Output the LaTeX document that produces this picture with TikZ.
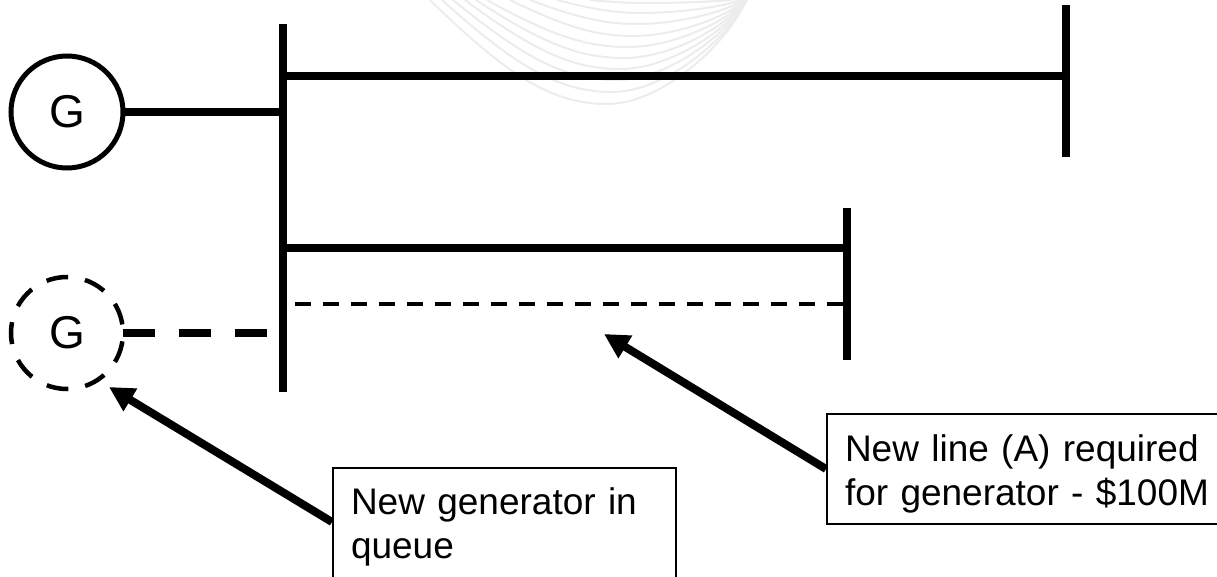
\documentclass[tikz,border=0pt]{standalone}
\usepackage{fontspec}
\setmainfont{Liberation Sans}
\usetikzlibrary{arrows.meta}

\tikzset{
  bus/.style={line width=8pt},
  gen/.style={circle, draw, line width=5pt, minimum size=112pt, inner sep=0pt, outer sep=0pt, font=\fontsize{46}{46}\selectfont},
  callout/.style={draw, line width=2pt, anchor=north west, inner xsep=18pt, inner ysep=0pt, align=left, font=\fontsize{37}{44}\selectfont},
  pointer/.style={line width=8pt, -{Triangle[length=25pt,width=25pt]}},
}

\begin{document}
\begin{tikzpicture}[x=1pt, y=-1pt]
  \clip (0,0) rectangle (1217,577);

  % faint arcs behind the lines
  \foreach \s/\m/\b in {430/607/104, 442/612/92, 453/616/80, 465/620/69, 476/624/58, 487/628/47, 510/633/36, 530/637/24, 557/641/13, 590/645/3} {
    \draw[gray!15, line width=2pt] (\s,0)
      .. controls ({\s+0.45*(\m-\s)},{0.75*\b}) and ({\m-0.3*(\m-\s)},\b) .. (\m,\b)
      .. controls ({\m+0.4*(748-\m)},\b) and ({748-0.13*(748-\m)},{0.4*\b}) .. (748,-3);
  }

  % vertices
  \coordinate (bus1a) at (283,24);
  \coordinate (bus1b) at (283,392);
  \coordinate (bus2a) at (1066,5);
  \coordinate (bus2b) at (1066,157);
  \coordinate (bus3a) at (847,208);
  \coordinate (bus3b) at (847,360);

  \coordinate (top1) at (283,76);
  \coordinate (top2) at (1066,76);
  \coordinate (mid1) at (283,248);
  \coordinate (mid2) at (847,248);
  \coordinate (new1) at (295,304);
  \coordinate (new2) at (847,304);
  \coordinate (stub) at (267,333);
  \coordinate (tap) at (283,112);

  \node[gen] (gen1) at (67,112) {G};
  \node[gen, draw=none] (gen2) at (67,333) {G};

  % boxes
  \node[callout, text width=307pt] (box1) at (332,467) {\rule{0pt}{46pt}New generator in\\queue\rule[-33pt]{0pt}{33pt}};
  \node[callout, text width=370pt] (box2) at (826,413) {\rule{0pt}{47pt}New line (A) required\\for generator - \$100M\rule[-19pt]{0pt}{19pt}};

  \coordinate (tip1) at (109,387);
  \coordinate (tip2) at (604,334);
  \coordinate (tail1) at (332,522);

  % draw diagram
  \draw[bus] (bus1a) -- (bus1b);
  \draw[bus] (bus2a) -- (bus2b);
  \draw[bus] (bus3a) -- (bus3b);
  \draw[bus] (top1) -- (top2);
  \draw[bus] (mid1) -- (mid2);
  \draw[bus] (gen1) -- (tap);
  \draw[bus, dash pattern=on 32pt off 24pt] (gen2.east) -- (stub);
  \draw[line width=4.5pt, dash pattern=on 22pt off 17.1pt, dash phase=30.5pt] (gen2) circle (56pt);
  \draw[line width=4pt, dash pattern=on 16pt off 12pt] (new1) -- (new2);

  % arrows
  \draw[pointer] (tail1) -- (tip1);
  \draw[pointer] (box2.west) -- (tip2);
\end{tikzpicture}
\end{document}
